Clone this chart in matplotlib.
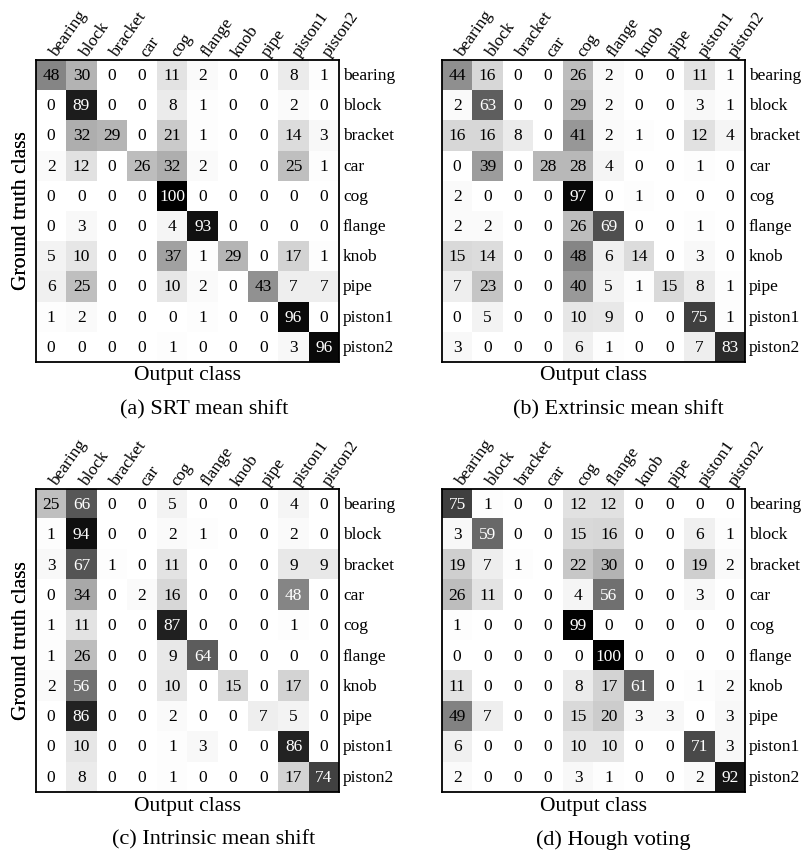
import numpy as np
import matplotlib
matplotlib.use("Agg")
import matplotlib.pyplot as plt

classes = ["bearing", "block", "bracket", "car", "cog", "flange", "knob", "pipe", "piston1", "piston2"]

srt = [
    [48, 30, 0, 0, 11, 2, 0, 0, 8, 1],
    [0, 89, 0, 0, 8, 1, 0, 0, 2, 0],
    [0, 32, 29, 0, 21, 1, 0, 0, 14, 3],
    [2, 12, 0, 26, 32, 2, 0, 0, 25, 1],
    [0, 0, 0, 0, 100, 0, 0, 0, 0, 0],
    [0, 3, 0, 0, 4, 93, 0, 0, 0, 0],
    [5, 10, 0, 0, 37, 1, 29, 0, 17, 1],
    [6, 25, 0, 0, 10, 2, 0, 43, 7, 7],
    [1, 2, 0, 0, 0, 1, 0, 0, 96, 0],
    [0, 0, 0, 0, 1, 0, 0, 0, 3, 96],
]
extrinsic = [
    [44, 16, 0, 0, 26, 2, 0, 0, 11, 1],
    [2, 63, 0, 0, 29, 2, 0, 0, 3, 1],
    [16, 16, 8, 0, 41, 2, 1, 0, 12, 4],
    [0, 39, 0, 28, 28, 4, 0, 0, 1, 0],
    [2, 0, 0, 0, 97, 0, 1, 0, 0, 0],
    [2, 2, 0, 0, 26, 69, 0, 0, 1, 0],
    [15, 14, 0, 0, 48, 6, 14, 0, 3, 0],
    [7, 23, 0, 0, 40, 5, 1, 15, 8, 1],
    [0, 5, 0, 0, 10, 9, 0, 0, 75, 1],
    [3, 0, 0, 0, 6, 1, 0, 0, 7, 83],
]
intrinsic = [
    [25, 66, 0, 0, 5, 0, 0, 0, 4, 0],
    [1, 94, 0, 0, 2, 1, 0, 0, 2, 0],
    [3, 67, 1, 0, 11, 0, 0, 0, 9, 9],
    [0, 34, 0, 2, 16, 0, 0, 0, 48, 0],
    [1, 11, 0, 0, 87, 0, 0, 0, 1, 0],
    [1, 26, 0, 0, 9, 64, 0, 0, 0, 0],
    [2, 56, 0, 0, 10, 0, 15, 0, 17, 0],
    [0, 86, 0, 0, 2, 0, 0, 7, 5, 0],
    [0, 10, 0, 0, 1, 3, 0, 0, 86, 0],
    [0, 8, 0, 0, 1, 0, 0, 0, 17, 74],
]
hough = [
    [75, 1, 0, 0, 12, 12, 0, 0, 0, 0],
    [3, 59, 0, 0, 15, 16, 0, 0, 6, 1],
    [19, 7, 1, 0, 22, 30, 0, 0, 19, 2],
    [26, 11, 0, 0, 4, 56, 0, 0, 3, 0],
    [1, 0, 0, 0, 99, 0, 0, 0, 0, 0],
    [0, 0, 0, 0, 0, 100, 0, 0, 0, 0],
    [11, 0, 0, 0, 8, 17, 61, 0, 1, 2],
    [49, 7, 0, 0, 15, 20, 3, 3, 0, 3],
    [6, 0, 0, 0, 10, 10, 0, 0, 71, 3],
    [2, 0, 0, 0, 3, 1, 0, 0, 2, 92],
]
captions = ["(a) SRT mean shift", "(b) Extrinsic mean shift",
            "(c) Intrinsic mean shift", "(d) Hough voting"]
matrices = [srt, extrinsic, intrinsic, hough]

plt.rcParams['font.family'] = ['Liberation Serif', 'DejaVu Serif']
W, H = 804, 852
fig = plt.figure(figsize=(W / 100, H / 100), dpi=100)

# (x0, x1, y0, y1) pixel boxes, caption centre x, white-text threshold
boxes = [(36, 339, 60, 362, 204, 50), (442, 745, 60, 362, 618, 50),
         (36, 339, 489, 792, 214, 45), (442, 745, 489, 792, 613, 50)]

for M, cap, (x0, x1, y0, y1, cx, thr) in zip(matrices, captions, boxes):
    M = np.array(M)
    ax = fig.add_axes([x0 / W, 1 - y1 / H, (x1 - x0) / W, (y1 - y0) / H])
    ax.imshow(M, cmap="gray_r", vmin=0, vmax=100, aspect="auto",
              interpolation="nearest")
    ax.set_xticks([])
    ax.set_yticks([])
    for s in ax.spines.values():
        s.set_linewidth(1.3)
    n = len(classes)
    for i in range(n):
        for j in range(n):
            v = M[i, j]
            ax.text(j, i + 0.03, str(v), ha="center", va="center",
                    fontsize=12.5, color="white" if v > thr else "black")
    for j, c in enumerate(classes):
        ax.text(j + 0.18, -0.58, c, rotation=55, rotation_mode="anchor",
                ha="left", va="baseline", fontsize=12.5)
    for i, c in enumerate(classes):
        ax.text(n - 0.5 + 0.13, i + 0.03, c, ha="left", va="center",
                fontsize=12.5)
    fig.text(22 / W, 1 - ((y0 + y1) / 2) / H, "Ground truth class",
             rotation=90, ha="center", va="center", fontsize=15.5)
    fig.text(((x0 + x1) / 2) / W, 1 - (y1 + 14) / H, "Output class",
             ha="center", va="center", fontsize=15.5)
    fig.text(cx / W, 1 - (y1 + 48) / H, cap, ha="center", va="center",
             fontsize=16)

fig.savefig("out.png", dpi=100)
